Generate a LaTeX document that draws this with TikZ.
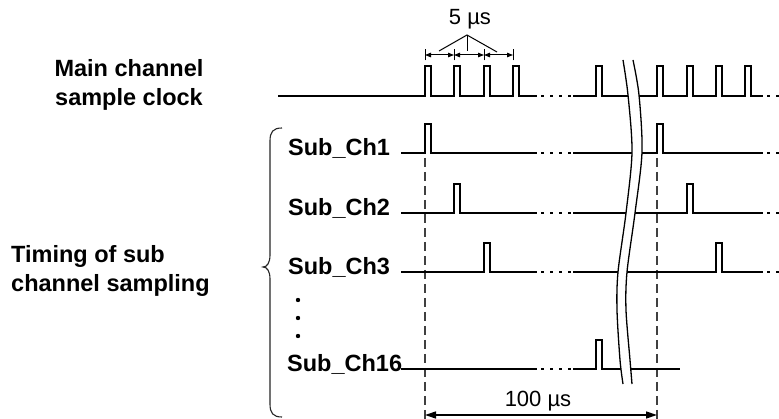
\documentclass[tikz,border=0pt]{standalone}
\usepackage{fontspec}
\setmainfont{Liberation Sans}
\usetikzlibrary{arrows.meta}
\begin{document}
\begin{tikzpicture}[x=1pt,y=-1pt,
  sig/.style={line width=1.4pt, line join=miter},
  dotline/.style={line width=1.4pt, dash pattern=on 3pt off 6pt},
  vdash/.style={line width=1.2pt, black!75, dash pattern=on 9pt off 5pt},
  brk/.style={line width=1.3pt},
  lab/.style={font=\fontsize{23.5}{29}\selectfont\bfseries, inner sep=0pt},
  txt/.style={font=\fontsize{22}{26}\selectfont, inner sep=0pt},
  dimarr/.style={line width=1pt, {Triangle[length=6pt,width=4.5pt]}-{Triangle[length=6pt,width=4.5pt]}},
  bigarr/.style={line width=1.3pt, {Triangle[length=11pt,width=7pt]}-{Triangle[length=11pt,width=7pt]}}]
\useasboundingbox (0,0) rectangle (779,419);

% labels
\node[lab, align=center] (mainlab) at (129,85) {Main channel\\sample clock};
\node[lab, align=left, anchor=west] (timelab) at (11,271) {Timing of sub\\channel sampling};
\node[lab, anchor=base west] (l1) at (288,156) {Sub\_Ch1};
\node[lab, anchor=base west] (l2) at (288,216) {Sub\_Ch2};
\node[lab, anchor=base west] (l3) at (288,275) {Sub\_Ch3};
\node[lab, anchor=base west] (l16) at (287,372) {Sub\_Ch16};
\fill (298,300) circle (2.2) (298,318) circle (2.2) (298,336) circle (2.2);

% brace
\draw[line width=1.1pt, black!85] (282,128) .. controls (273,128) and (270,132) .. (270,141) -- (270,255)
  .. controls (270,263) and (267,267) .. (263,267) .. controls (267,267) and (270,271) .. (270,279)
  -- (270,404) .. controls (270,413) and (273,417) .. (282,417);

% vertical dashed reference lines
\coordinate (v1t) at (425,158); \coordinate (v1b) at (425,419);
\coordinate (v2t) at (657,158); \coordinate (v2b) at (657,419);
\draw[vdash] (v1t) -- (v1b);
\draw[vdash] (v2t) -- (v2b);

% main clock
\draw[sig] (278,96) -- (425,96) -- (425,66) -- (431,66) -- (431,96) -- (454,96) -- (454,66) -- (460,66) -- (460,96)
  -- (484,96) -- (484,66) -- (490,66) -- (490,96) -- (513,96) -- (513,66) -- (519,66) -- (519,96) -- (537,96);
\draw[dotline] (541,96) -- (572,96);
\draw[sig] (573,96) -- (596,96) -- (596,66) -- (602,66) -- (602,96) -- (657,96) -- (657,66) -- (663,66) -- (663,96)
  -- (687,96) -- (687,66) -- (693,66) -- (693,96) -- (716,96) -- (716,66) -- (722,66) -- (722,96)
  -- (745,96) -- (745,66) -- (751,66) -- (751,96) -- (763,96);
\draw[dotline] (767,96) -- (779,96);

% Sub_Ch1
\draw[sig] (401,153) -- (425,153) -- (425,124) -- (431,124) -- (431,153) -- (537,153);
\draw[dotline] (541,153) -- (572,153);
\draw[sig] (573,153) -- (657,153) -- (657,124) -- (663,124) -- (663,153) -- (763,153);
\draw[dotline] (767,153) -- (779,153);

% Sub_Ch2
\draw[sig] (401,213) -- (454,213) -- (454,184) -- (460,184) -- (460,213) -- (537,213);
\draw[dotline] (541,213) -- (572,213);
\draw[sig] (573,213) -- (687,213) -- (687,184) -- (693,184) -- (693,213) -- (763,213);
\draw[dotline] (767,213) -- (779,213);

% Sub_Ch3
\draw[sig] (401,272) -- (484,272) -- (484,243) -- (490,243) -- (490,272) -- (537,272);
\draw[dotline] (541,272) -- (572,272);
\draw[sig] (573,272) -- (716,272) -- (716,243) -- (722,243) -- (722,272) -- (763,272);
\draw[dotline] (767,272) -- (779,272);

% Sub_Ch16
\draw[sig] (401,369) -- (537,369);
\draw[dotline] (541,369) -- (572,369);
\draw[sig] (573,369) -- (596,369) -- (596,340) -- (602,340) -- (602,369) -- (680,369);

% break mark
\fill[white] plot[smooth] coordinates {(623,60) (628,95) (632,152) (626,213) (618,272) (617,310) (620,360) (623,384)}
  -- plot[smooth] coordinates {(632,384) (630,360) (626,310) (627,272) (635,213) (642,152) (639,95) (633,60)} -- cycle;
\draw[brk] plot[smooth] coordinates {(623,60) (628,95) (632,152) (626,213) (618,272) (617,310) (620,360) (623,384)};
\draw[brk] plot[smooth] coordinates {(633,60) (639,95) (642,152) (635,213) (627,272) (626,310) (630,360) (632,384)};

% 5 us dimension
\coordinate (t1) at (425,55); \coordinate (t2) at (454,55); \coordinate (t3) at (484,55); \coordinate (t4) at (513,55);
\foreach \t in {t1,t2,t3,t4} \draw[line width=1pt] ([yshift=-5.5pt]\t) -- ([yshift=5.5pt]\t);
\draw[dimarr] (t1) -- (t2);
\draw[dimarr] (t2) -- (t3);
\draw[dimarr] (t3) -- (t4);
\node[txt] (five) at (470,19) {5 µs};
\coordinate (apex) at (467,35);
\coordinate (e1) at (439,51); \coordinate (e2) at (467,51); \coordinate (e3) at (497,52);
\draw[line width=1pt] (e1) -- (apex) -- (e3);
\draw[line width=1pt] (apex) -- (e2);

% 100 us dimension
\coordinate (a1) at (425,415); \coordinate (a2) at (657,415);
\draw[bigarr] (a1) -- (a2);
\node[txt] (hundred) at (538,401) {100 µs};
\end{tikzpicture}
\end{document}
